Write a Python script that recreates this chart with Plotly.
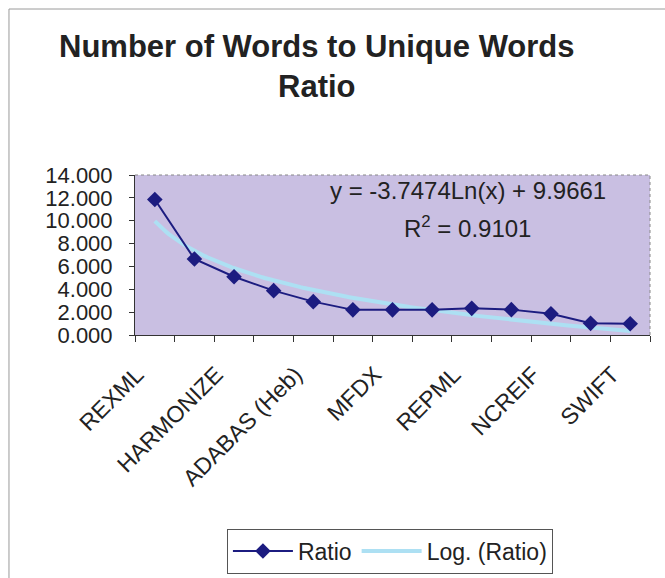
import numpy as np
import plotly.graph_objects as go

# Categories (only every other one is labelled on the axis)
positions = list(range(1, 14))
label_positions = [1, 3, 5, 7, 9, 11, 13]
label_text = ["REXML", "HARMONIZE", "ADABAS (Heb)", "MFDX", "REPML", "NCREIF", "SWIFT"]

# Ratio of total words to unique words
ratio = [11.85, 6.65, 5.10, 3.88, 2.92, 2.20, 2.20, 2.20, 2.33, 2.22, 1.85, 1.02, 0.98]

# Logarithmic trendline coefficients: y = a*ln(x) + b
trend_a = -3.7474
trend_b = 9.9661
trend_r2 = 0.9101

FONT = "Liberation Sans, Arial, sans-serif"
NAVY = "#1c1c80"
TREND = "#ade0f3"
TEXT = "#222222"

# Rotated category labels sit slightly left of their category centre
LABEL_SHIFT = 0.45

xs = np.linspace(1, 13, 200)
trend_y = trend_a * np.log(xs) + trend_b

fig = go.Figure()
fig.add_trace(go.Scatter(
    x=xs, y=trend_y, mode="lines", name="Log. (Ratio)",
    line=dict(color=TREND, width=4), hoverinfo="skip",
))
fig.add_trace(go.Scatter(
    x=positions, y=ratio, mode="lines+markers", name="Ratio",
    line=dict(color=NAVY, width=2),
    marker=dict(symbol="diamond", size=12, color=NAVY),
))

# Trendline equation and fit quality
fig.add_annotation(
    x=8.9, y=12.65, xref="x", yref="y", showarrow=False,
    text=f"y = {trend_a}Ln(x) + {trend_b}",
    font=dict(family=FONT, size=24, color=TEXT),
)
fig.add_annotation(
    x=8.9, y=9.45, xref="x", yref="y", showarrow=False,
    text=f"R<sup>2</sup> = {trend_r2}",
    font=dict(family=FONT, size=24, color=TEXT),
)

# Chart title
fig.add_annotation(
    x=0.353, y=1.925, xref="paper", yref="paper", showarrow=False,
    xanchor="center", yanchor="top",
    text="<b>Number of Words to Unique Words<br>Ratio</b>",
    font=dict(family=FONT, size=31, color=TEXT),
)

# Outer chart border
fig.add_shape(type="rect", xref="paper", yref="paper",
              x0=-0.2447, y0=-1.6, x1=1.04, y1=2.0375,
              line=dict(color="#9a9a9a", width=1), layer="below")

# Dotted plot-area border on top and right
fig.add_shape(type="line", xref="paper", yref="paper", x0=0, y0=1, x1=1, y1=1,
              line=dict(color="#888888", width=1, dash="dot"))
fig.add_shape(type="line", xref="paper", yref="paper", x0=1, y0=0, x1=1, y1=1,
              line=dict(color="#888888", width=1, dash="dot"))

fig.update_layout(
    width=665, height=578,
    margin=dict(l=135, r=15, t=175, b=243, autoexpand=False),
    paper_bgcolor="white",
    plot_bgcolor="#c9bfe2",
    font=dict(family=FONT, color=TEXT),
    showlegend=True,
    legend=dict(
        orientation="h", x=0.495, xanchor="center", y=-1.21, yanchor="top",
        bordercolor="#555555", borderwidth=1, bgcolor="white",
        font=dict(family=FONT, size=23, color=TEXT),
        traceorder="reversed", itemwidth=60,
    ),
)

fig.update_xaxes(
    range=[0.5, 13.5], automargin=False,
    tickmode="array", tickvals=[p - LABEL_SHIFT for p in label_positions],
    ticktext=label_text,
    tickangle=-45, ticks="", ticklabelstandoff=16,
    tickfont=dict(family=FONT, size=23, color=TEXT),
    minor=dict(tick0=0.5, dtick=1, ticks="outside", ticklen=6, tickcolor="#333333"),
    showline=True, linecolor="#333333", linewidth=1,
    showgrid=False, zeroline=False,
)
fig.update_yaxes(
    range=[0, 14], dtick=2, tickformat=".3f", automargin=False,
    ticks="outside", ticklen=5, tickcolor="#333333", ticklabelstandoff=12,
    tickfont=dict(family=FONT, size=22, color=TEXT),
    showline=True, linecolor="#333333", linewidth=1,
    showgrid=False, zeroline=False,
)

fig.write_html("out.html")
